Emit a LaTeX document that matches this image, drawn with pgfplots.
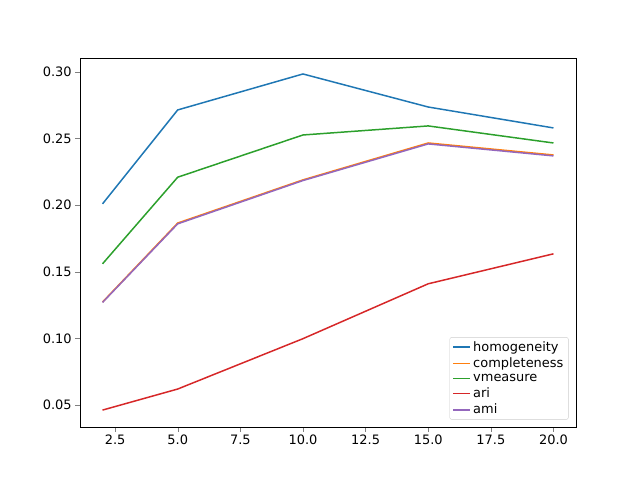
\documentclass[border=0pt]{standalone}
\usepackage{pgfplots}
\pgfplotsset{compat=1.18}
\usepackage{fontspec}
\setmainfont{DejaVu Sans}
\definecolor{c1}{HTML}{1F77B4}
\definecolor{c2}{HTML}{FF7F0E}
\definecolor{c3}{HTML}{2CA02C}
\definecolor{c4}{HTML}{D62728}
\definecolor{c5}{HTML}{9467BD}
\begin{document}
\begin{tikzpicture}[x=1bp,y=1bp]
\path (-80,-53) rectangle (560,427);
\begin{axis}[at={(0,0)},anchor=south west,scale only axis,width=496bp,height=369bp,
xmin=1.1,xmax=20.9,ymin=0.0335,ymax=0.3105,
xtick={2.5,5,7.5,10,12.5,15,17.5,20},
ytick={0.05,0.10,0.15,0.20,0.25,0.30},
xticklabel style={/pgf/number format/.cd,fixed,fixed zerofill,precision=1},
yticklabel style={/pgf/number format/.cd,fixed,fixed zerofill,precision=2},
/pgf/number format/assume math mode=true,
tick label style={font=\fontsize{13}{15}\selectfont},
tick align=outside,tick pos=left,major tick length=4.8bp,
legend style={font=\fontsize{13}{16}\selectfont,draw=black!20,rounded corners=2pt,at={(0.985,0.02)},anchor=south east,row sep=1pt},
legend cell align=left]
\addplot[color=c1,line width=1.5pt,mark=none] coordinates {(2,0.201)(5,0.2715)(10,0.2985)(15,0.2737)(20,0.258)};
\addlegendentry{homogeneity}
\addplot[color=c2,line width=1.5pt,mark=none] coordinates {(2,0.1273)(5,0.1866)(10,0.219)(15,0.2467)(20,0.2377)};
\addlegendentry{completeness}
\addplot[color=c3,line width=1.5pt,mark=none] coordinates {(2,0.156)(5,0.221)(10,0.2527)(15,0.2595)(20,0.2467)};
\addlegendentry{vmeasure}
\addplot[color=c4,line width=1.5pt,mark=none] coordinates {(2,0.0462)(5,0.062)(10,0.0998)(15,0.141)(20,0.1635)};
\addlegendentry{ari}
\addplot[color=c5,line width=1.5pt,mark=none] coordinates {(2,0.127)(5,0.186)(10,0.2185)(15,0.246)(20,0.237)};
\addlegendentry{ami}
\end{axis}
\end{tikzpicture}
\end{document}
